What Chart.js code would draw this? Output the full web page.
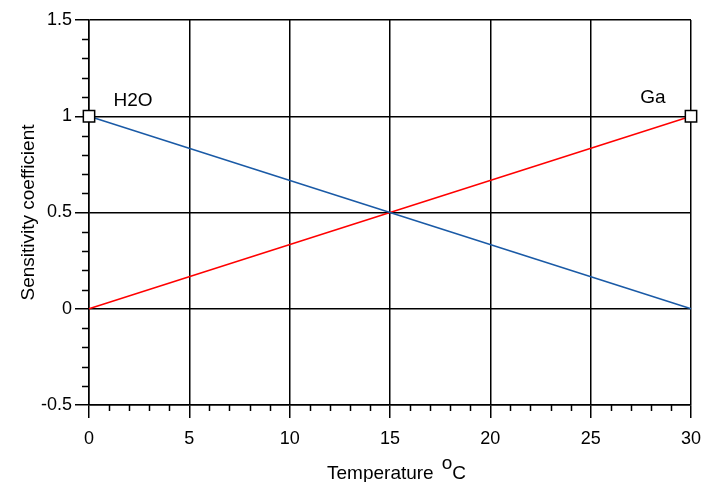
<!DOCTYPE html>
<html>
<head>
<meta charset="utf-8">
<script src="https://cdn.jsdelivr.net/npm/chart.js@4/dist/chart.umd.min.js"></script>
<style>
  html, body { margin: 0; padding: 0; background: #fff; }
  canvas { display: block; }
</style>
</head>
<body>
<canvas id="chart" width="706" height="482"></canvas>
<script>
// Data
const temperature = [0, 30];
const h2oValues = [1, 0];
const gaValues = [0, 1];
const markerX = [0, 30];
const markerY = [1, 1];
const labelNames = ['H2O', 'Ga'];
const xTicks = [0, 5, 10, 15, 20, 25, 30];
const yTicks = [-0.5, 0, 0.5, 1, 1.5];

const FONT = 'Arial, "Liberation Sans", sans-serif';

function toPoints(xs, ys) {
    return xs.map((x, i) => ({ x: x, y: ys[i] }));
}

// Minor ticks, axis titles (x title has a raised "o") and the two labels
const extras = {
    id: 'extras',
    afterDraw(chart) {
        const ctx = chart.ctx;
        const xs = chart.scales.x;
        const ys = chart.scales.y;
        const area = chart.chartArea;
        ctx.save();
        ctx.strokeStyle = '#000';
        ctx.lineWidth = 1.5;
        ctx.beginPath();
        for (let v = 0; v <= 30; v++) {
            if (v % 5 === 0) continue;
            const px = Math.round(xs.getPixelForValue(v)) + 0.5;
            ctx.moveTo(px, area.bottom);
            ctx.lineTo(px, area.bottom + 6);
        }
        for (let i = -5; i <= 15; i++) {
            if (i % 5 === 0) continue;
            const py = Math.round(ys.getPixelForValue(i / 10)) + 0.5;
            ctx.moveTo(area.left - 7, py);
            ctx.lineTo(area.left, py);
        }
        ctx.stroke();

        ctx.fillStyle = '#000';
        ctx.textBaseline = 'alphabetic';
        ctx.textAlign = 'left';

        // x axis title "Temperature oC"
        ctx.font = '19px ' + FONT;
        const t1 = 'Temperature';
        const w1 = ctx.measureText(t1).width + 8;
        const w2 = ctx.measureText('o').width;
        const w3 = ctx.measureText('C').width;
        const x0 = (area.left + area.right) / 2 - (w1 + w2 + w3) / 2 + 6.5;
        ctx.fillText(t1, x0, 479);
        ctx.fillText('o', x0 + w1, 468.5);
        ctx.fillText('C', x0 + w1 + w2, 479);

        // y axis title
        ctx.save();
        ctx.translate(34, (area.top + area.bottom) / 2);
        ctx.rotate(-Math.PI / 2);
        ctx.textAlign = 'center';
        ctx.font = '19px ' + FONT;
        ctx.fillText('Sensitivity coefficient', 0, 0);
        ctx.restore();

        // curve labels
        ctx.font = '19px ' + FONT;
        ctx.textAlign = 'center';
        const p0x = xs.getPixelForValue(markerX[0]);
        const p0y = ys.getPixelForValue(markerY[0]);
        ctx.fillText(labelNames[0], p0x + 44, p0y - 10);
        const p1x = xs.getPixelForValue(markerX[1]);
        const p1y = ys.getPixelForValue(markerY[1]);
        ctx.fillText(labelNames[1], p1x - 38, p1y - 13);
        ctx.restore();
    }
};

new Chart(document.getElementById('chart'), {
    type: 'scatter',
    data: {
        datasets: [
            {
                label: 'H2O',
                data: toPoints(temperature, h2oValues),
                showLine: true,
                borderColor: '#1a5aa6',
                borderWidth: 1.5,
                pointRadius: 0,
                order: 2
            },
            {
                label: 'Ga',
                data: toPoints(temperature, gaValues),
                showLine: true,
                borderColor: '#ff0000',
                borderWidth: 1.5,
                pointRadius: 0,
                order: 2
            },
            {
                label: 'markers',
                data: toPoints(markerX, markerY),
                showLine: false,
                pointStyle: 'rect',
                pointRadius: 8,
                pointBackgroundColor: '#fff',
                pointBorderColor: '#000',
                pointBorderWidth: 1.5,
                order: 1
            }
        ]
    },
    options: {
        responsive: false,
        animation: false,
        clip: false,
        layout: { padding: { top: 20, right: 15, left: 0, bottom: 0 } },
        plugins: {
            legend: { display: false },
            tooltip: { enabled: false }
        },
        scales: {
            x: {
                type: 'linear',
                min: 0,
                max: 30,
                afterBuildTicks: s => { s.ticks = xTicks.map(v => ({ value: v })); },
                afterFit: s => { s.height = 77; s.paddingLeft = 0; s.paddingRight = 0; },
                ticks: {
                    color: '#000',
                    font: { family: FONT, size: 18 },
                    padding: 10,
                    maxRotation: 0
                },
                grid: { color: '#000', lineWidth: 1.5, tickLength: 13 },
                border: { color: '#000', width: 1.5 }
            },
            y: {
                type: 'linear',
                min: -0.5,
                max: 1.5,
                afterBuildTicks: s => { s.ticks = yTicks.map(v => ({ value: v })); },
                afterFit: s => { s.width = 89; s.paddingTop = 0; s.paddingBottom = 0; },
                ticks: {
                    color: '#000',
                    font: { family: FONT, size: 18 },
                    padding: 3,
                    callback: v => String(v)
                },
                grid: { color: '#000', lineWidth: 1.5, tickLength: 14 },
                border: { color: '#000', width: 1.5 }
            }
        }
    },
    plugins: [extras]
});
</script>
</body>
</html>
